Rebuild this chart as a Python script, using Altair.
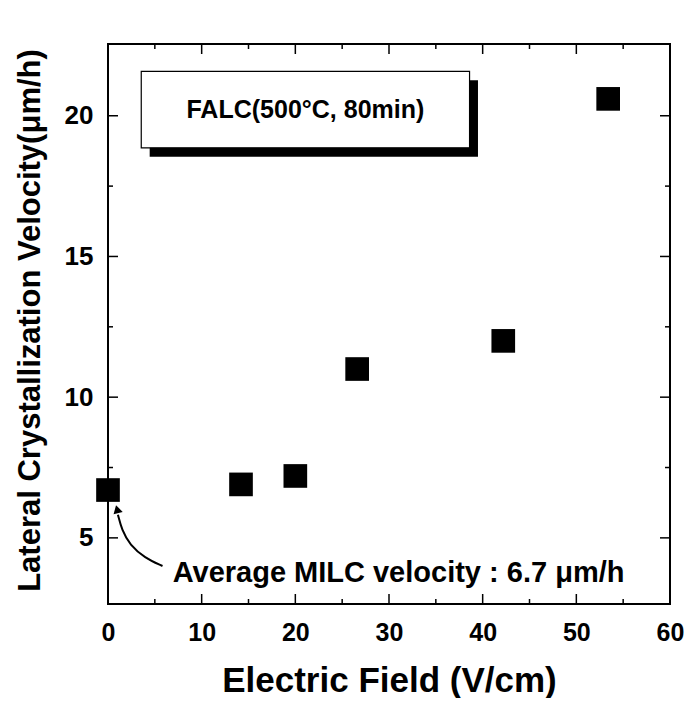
import altair as alt
import pandas as pd

# ---- data ----
field = [0, 14.2, 20.0, 26.6, 42.2, 53.4]
velocity = [6.7, 6.9, 7.2, 11.0, 12.0, 20.6]

x_major = [0, 10, 20, 30, 40, 50, 60]
x_minor = [5, 15, 25, 35, 45, 55]
y_major = [5, 10, 15, 20]
y_minor = [7.5, 12.5, 17.5]

# annotation geometry (data units)
box_x, box_x2, box_y, box_y2 = 3.55, 38.6, 21.58, 18.86
shadow_dx, shadow_dy = 0.9, -0.32
box_label = "FALC(500°C, 80min)"
note_label = "Average MILC velocity : 6.7 μm/h"
arrow_x = [5.82, 3.92, 2.33, 1.48, 1.06]
arrow_y = [4.00, 4.29, 4.75, 5.28, 5.82]

W, H = 562, 560
FONT = "Liberation Sans"

xs = alt.Scale(domain=[0, 60], nice=False, zero=False)
ys = alt.Scale(domain=[2.65, 22.55], nice=False, zero=False)

pts = pd.DataFrame({"field": field, "velocity": velocity})

base_x_axis = alt.Axis(values=x_major, ticks=False, domain=False, grid=False,
                       labelFlush=False,
                       labelFont=FONT, labelFontSize=25, labelFontWeight="bold",
                       labelColor="black", labelPadding=16,
                       title="Electric Field (V/cm)", titleFont=FONT,
                       titleFontSize=35, titleFontWeight="bold", titleColor="black",
                       titleY=87, titleBaseline="alphabetic")
base_y_axis = alt.Axis(values=y_major, ticks=False, domain=False, grid=False,
                       labelFlush=False,
                       labelFont=FONT, labelFontSize=26, labelFontWeight="bold",
                       labelColor="black", labelPadding=15,
                       title="Lateral Crystallization Velocity(μm/h)", titleFont=FONT,
                       titleFontSize=31, titleFontWeight="bold", titleColor="black",
                       titleX=-78, titleY=276, titleBaseline="middle", titleAngle=-90)

points = alt.Chart(pts).mark_square(size=560, color="black", opacity=1).encode(
    x=alt.X("field:Q", scale=xs, axis=base_x_axis),
    y=alt.Y("velocity:Q", scale=ys, axis=base_y_axis),
)

# inward ticks on all four sides
ym = pd.DataFrame({"v": y_major})
yn = pd.DataFrame({"v": y_minor})
xm = pd.DataFrame({"v": x_major})
xn = pd.DataFrame({"v": x_minor})

def ytick(df, x0, x1):
    return alt.Chart(df).mark_rule(color="black", strokeWidth=1.5).encode(
        y=alt.Y("v:Q", scale=ys), x=alt.value(x0), x2=alt.value(x1))

def xtick(df, y0, y1):
    return alt.Chart(df).mark_rule(color="black", strokeWidth=1.5).encode(
        x=alt.X("v:Q", scale=xs), y=alt.value(y0), y2=alt.value(y1))

ticks = [
    ytick(ym, 0, 10), ytick(yn, 0, 5), ytick(ym, W, W - 10), ytick(yn, W, W - 5),
    xtick(xm, H, H - 10), xtick(xn, H, H - 5), xtick(xm, 0, 10), xtick(xn, 0, 5),
]

frame = alt.Chart(pd.DataFrame({"a": [0]})).mark_rect(
    fill="transparent", stroke="black", strokeWidth=2).encode(
    x=alt.value(0), x2=alt.value(W), y=alt.value(0), y2=alt.value(H))

box_df = pd.DataFrame({"x": [box_x], "x2": [box_x2], "y": [box_y], "y2": [box_y2],
                       "sx": [box_x + shadow_dx], "sx2": [box_x2 + shadow_dx],
                       "sy": [box_y + shadow_dy], "sy2": [box_y2 + shadow_dy],
                       "tx": [(box_x + box_x2) / 2], "ty": [(box_y + box_y2) / 2],
                       "label": [box_label]})
shadow = alt.Chart(box_df).mark_rect(color="black").encode(
    x=alt.X("sx:Q", scale=xs), x2="sx2", y=alt.Y("sy:Q", scale=ys), y2="sy2")
box = alt.Chart(box_df).mark_rect(fill="white", stroke="black", strokeWidth=1.2).encode(
    x=alt.X("x:Q", scale=xs), x2="x2", y=alt.Y("y:Q", scale=ys), y2="y2")
box_text = alt.Chart(box_df).mark_text(font=FONT, fontSize=25, fontWeight="bold",
                                       color="black", align="center", baseline="middle").encode(
    x=alt.X("tx:Q", scale=xs), y=alt.Y("ty:Q", scale=ys), text="label:N")

note_df = pd.DataFrame({"x": [6.9], "y": [3.76], "label": [note_label]})
note = alt.Chart(note_df).mark_text(font=FONT, fontSize=29, fontWeight="bold",
                                    color="black", align="left", baseline="middle").encode(
    x=alt.X("x:Q", scale=xs), y=alt.Y("y:Q", scale=ys), text="label:N")

arrow_df = pd.DataFrame({"x": arrow_x, "y": arrow_y, "o": list(range(len(arrow_x)))})
arrow = alt.Chart(arrow_df).mark_line(color="black", strokeWidth=2, interpolate="basis").encode(
    x=alt.X("x:Q", scale=xs), y=alt.Y("y:Q", scale=ys), order="o:Q")
head_df = pd.DataFrame({"x": [0.97], "y": [6.02]})
head = alt.Chart(head_df).mark_point(shape="triangle-up", filled=True, color="black",
                                     size=90, opacity=1, angle=345).encode(
    x=alt.X("x:Q", scale=xs), y=alt.Y("y:Q", scale=ys))

chart = alt.layer(shadow, box, box_text, note, arrow, head, frame, *ticks, points).properties(
    width=W, height=H,
    autosize=alt.AutoSizeParams(type="none"),
    padding={"left": 100, "top": 36, "right": 15, "bottom": 94},
).configure_view(stroke=None).configure(background="white")

chart.save("out.html", embed_options={"renderer": "svg", "actions": False})
